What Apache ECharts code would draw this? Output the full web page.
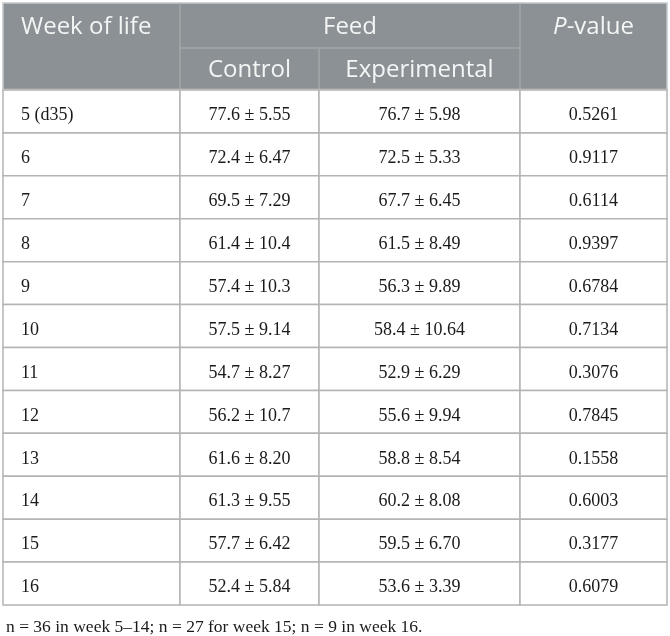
<!DOCTYPE html>
<html>
<head>
<meta charset="utf-8">
<title>Week of life table</title>
<script src="https://cdn.jsdelivr.net/npm/echarts@6/dist/echarts.min.js"></script>
<style>
  html, body { margin: 0; padding: 0; background: #fff; }
  #main { width: 670px; height: 636px; }
</style>
</head>
<body>
<div id="main"></div>
<script>
// 表格数据
var weeks = ['5 (d35)', '6', '7', '8', '9', '10', '11', '12', '13', '14', '15', '16'];
var controlMean = [77.6, 72.4, 69.5, 61.4, 57.4, 57.5, 54.7, 56.2, 61.6, 61.3, 57.7, 52.4];
var controlSd = ['5.55', '6.47', '7.29', '10.4', '10.3', '9.14', '8.27', '10.7', '8.20', '9.55', '6.42', '5.84'];
var expMean = [76.7, 72.5, 67.7, 61.5, 56.3, 58.4, 52.9, 55.6, 58.8, 60.2, 59.5, 53.6];
var expSd = ['5.98', '5.33', '6.45', '8.49', '9.89', '10.64', '6.29', '9.94', '8.54', '8.08', '6.70', '3.39'];
var pValues = [0.5261, 0.9117, 0.6114, 0.9397, 0.6784, 0.7134, 0.3076, 0.7845, 0.1558, 0.6003, 0.3177, 0.6079];
var headerTop = ['Week of life', 'Feed', 'P-value'];
var headerSub = ['Control', 'Experimental'];
var footnote = 'n = 36 in week 5\u201314; n = 27 for week 15; n = 9 in week 16.';

// 布局（x轴单位 = 像素）
var colEdges = [0, 177, 316, 517, 664];
var headerSplit = 45; // 表头第一行高度
var headerH = 87;

var headBg = '#8b9194',
	headLine = '#a2a7aa',
	bodyLine = '#b4b4b4',
	headFont = '"Open Sans", "Noto Sans", sans-serif',
	bodyFont = '"Liberation Serif", "DejaVu Serif", serif';

var myChart = echarts.init(document.getElementById('main'), null, { renderer: 'canvas' });

function headText(x, y, text, align) {
	return {
		type: 'text',
		silent: true,
		style: {
			x: x, y: y, text: text,
			fill: '#f4f5f5',
			font: '24px ' + headFont,
			align: align || 'center',
			verticalAlign: 'middle'
		}
	};
}

// 表头
function renderHeader(params, api) {
	var tl = api.coord([colEdges[0], 0]),
		br = api.coord([colEdges[4], headerH]),
		mid = api.coord([colEdges[1], headerSplit])[1],
		xs = colEdges.map(function (e) { return api.coord([e, 0])[0]; });
	var row1 = (tl[1] + mid) / 2 + 1.5,
		row2 = (mid + br[1]) / 2 + 1.5;
	var children = [
		{ type: 'rect', shape: { x: tl[0], y: tl[1], width: br[0] - tl[0], height: br[1] - tl[1] }, style: { fill: headBg, stroke: '#c4c7c9', lineWidth: 1.5 } },
		{ type: 'line', shape: { x1: xs[1], y1: tl[1], x2: xs[1], y2: br[1] }, style: { stroke: headLine, lineWidth: 1.5 } },
		{ type: 'line', shape: { x1: xs[3], y1: tl[1], x2: xs[3], y2: br[1] }, style: { stroke: headLine, lineWidth: 1.5 } },
		{ type: 'line', shape: { x1: xs[1], y1: mid, x2: xs[3], y2: mid }, style: { stroke: headLine, lineWidth: 1.5 } },
		{ type: 'line', shape: { x1: xs[2], y1: mid, x2: xs[2], y2: br[1] }, style: { stroke: headLine, lineWidth: 1.5 } },
		{ type: 'line', shape: { x1: tl[0], y1: br[1], x2: br[0], y2: br[1] }, style: { stroke: '#c9cbcc', lineWidth: 2.5 } },
		headText(xs[0] + 18, row1, headerTop[0], 'left'),
		headText((xs[1] + xs[3]) / 2, row1, headerTop[1]),
		headText((xs[1] + xs[2]) / 2, row2, headerSub[0]),
		headText((xs[2] + xs[3]) / 2, row2, headerSub[1]),
		{
			type: 'text',
			silent: true,
			style: {
				x: (xs[3] + xs[4]) / 2, y: row1,
				text: '{i|P}{n|-value}',
				fill: '#f4f5f5',
				font: '24px ' + headFont,
				align: 'center',
				verticalAlign: 'middle',
				rich: {
					i: { fontStyle: 'italic', fontSize: 24, fontFamily: headFont, fill: '#f4f5f5' },
					n: { fontSize: 24, fontFamily: headFont, fill: '#f4f5f5' }
				}
			}
		}
	];
	return { type: 'group', children: children };
}

// 表体每一行
function renderRow(params, api) {
	var i = params.dataIndex,
		c = api.coord([0, api.value(0)]),
		h = api.size([0, 1])[1],
		y0 = c[1] - h / 2,
		xs = colEdges.map(function (e) { return api.coord([e, 0])[0]; });
	var texts = [
		weeks[i],
		controlMean[i].toFixed(1) + ' \u00b1 ' + controlSd[i],
		expMean[i].toFixed(1) + ' \u00b1 ' + expSd[i],
		pValues[i].toFixed(4)
	];
	var children = [];
	for (var k = 0; k < 4; k++) {
		children.push({
			type: 'rect',
			shape: { x: xs[k], y: y0, width: xs[k + 1] - xs[k], height: h },
			style: { fill: '#fff', stroke: bodyLine, lineWidth: 1.5 }
		});
	}
	for (var k = 0; k < 4; k++) {
		children.push({
			type: 'text',
			silent: true,
			style: {
				x: k === 0 ? xs[0] + 18 : (xs[k] + xs[k + 1]) / 2,
				y: c[1] + 4,
				text: texts[k],
				fill: '#1a1a1a',
				font: '18px ' + bodyFont,
				align: k === 0 ? 'left' : 'center',
				verticalAlign: 'middle'
			}
		});
	}
	return { type: 'group', children: children };
}

var option = {
	animation: false,
	title: {
		text: footnote,
		left: 1,
		top: 613,
		textStyle: { fontFamily: bodyFont, fontSize: 17.5, fontWeight: 'normal', color: '#1a1a1a' }
	},
	grid: [
		{ left: 3, right: 3, top: 3, height: headerH },
		{ left: 3, right: 3, top: 3 + headerH, bottom: 31 }
	],
	xAxis: [
		{ type: 'value', gridIndex: 0, min: 0, max: 664, show: false },
		{ type: 'value', gridIndex: 1, min: 0, max: 664, show: false }
	],
	yAxis: [
		{ type: 'value', gridIndex: 0, min: 0, max: headerH, inverse: true, show: false },
		{ type: 'category', gridIndex: 1, data: weeks, inverse: true, show: false }
	],
	series: [
		{
			type: 'custom',
			xAxisIndex: 0,
			yAxisIndex: 0,
			renderItem: renderHeader,
			data: [[0, 0]],
			z: 1
		},
		{
			type: 'custom',
			xAxisIndex: 1,
			yAxisIndex: 1,
			renderItem: renderRow,
			encode: { y: 0 },
			data: weeks.map(function (w, i) { return [i]; }),
			z: 2
		}
	]
};
myChart.setOption(option);
</script>
</body>
</html>
